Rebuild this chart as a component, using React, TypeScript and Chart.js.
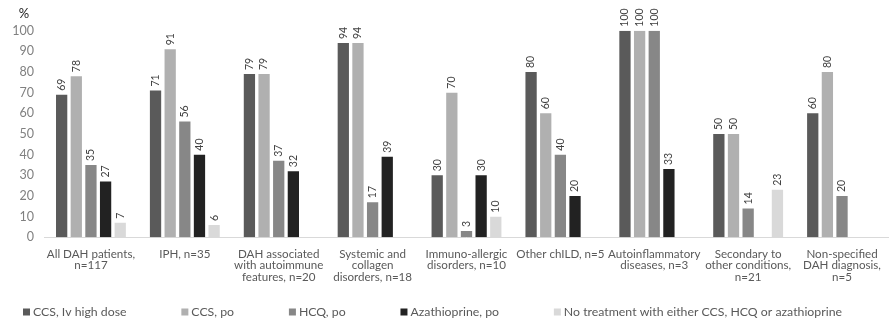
import React, { useEffect, useRef } from "react";
import { Chart, registerables } from "chart.js";

Chart.register(...registerables);

// Diagnostic groups shown along the x axis (line breaks as drawn)
const categories: (string | string[])[] = [
  ["All DAH patients,", "n=117"],
  "IPH, n=35",
  ["DAH associated", "with autoimmune", "features, n=20"],
  ["Systemic and", "collagen", "disorders, n=18"],
  ["Immuno-allergic", "disorders, n=10"],
  "Other chILD, n=5",
  ["Autoinflammatory", "diseases, n=3"],
  ["Secondary to", "other conditions,", "n=21"],
  ["Non-specified", "DAH diagnosis,", "n=5"],
];

const seriesNames = [
  "CCS, Iv high dose",
  "CCS, po",
  "HCQ, po",
  "Azathioprine, po",
  "No treatment with either CCS, HCQ or azathioprine",
];

// Percent of patients per group (null = no bar)
const ccsIvHighDose = [69, 71, 79, 94, 30, 80, 100, 50, 60];
const ccsPo = [78, 91, 79, 94, 70, 60, 100, 50, 80];
const hcqPo = [35, 56, 37, 17, 3, 40, 100, 14, 20];
const azathioprinePo: (number | null)[] = [27, 40, 32, 39, 30, 20, 33, null, null];
const noTreatment: (number | null)[] = [7, 6, null, null, 10, null, null, 23, null];

const yMin = 0;
const yMax = 100;
const yStep = 10;

const seriesColors = ["#5a5a5a", "#b0b0b0", "#878787", "#222222", "#d9d9d9"];

const FONT = "Lato, 'Open Sans', 'DejaVu Sans', sans-serif";

// Rotated value labels above each bar
const valueLabels = {
  id: "valueLabels",
  afterDatasetsDraw(chart: any) {
    const ctx = chart.ctx;
    ctx.save();
    ctx.font = `10.5px ${FONT}`;
    ctx.fillStyle = "#404040";
    ctx.textAlign = "left";
    ctx.textBaseline = "middle";
    chart.data.datasets.forEach((ds: any, di: number) => {
      const meta = chart.getDatasetMeta(di);
      meta.data.forEach((el: any, i: number) => {
        const v = ds.data[i];
        if (v === null || v === undefined) return;
        ctx.save();
        ctx.translate(el.x, el.y - 4);
        ctx.rotate(-Math.PI / 2);
        ctx.fillText(String(v), 0, 0);
        ctx.restore();
      });
    });
    ctx.restore();
  },
};

// "%" unit marker above the y axis
const unitLabel = {
  id: "unitLabel",
  afterDraw(chart: any) {
    const ctx = chart.ctx;
    const { top } = chart.chartArea;
    ctx.save();
    ctx.font = `13px ${FONT}`;
    ctx.fillStyle = "#1a1a1a";
    ctx.textAlign = "center";
    ctx.textBaseline = "middle";
    ctx.fillText("%", 24, top - 16.5);
    ctx.restore();
  },
};

// Single-row legend along the bottom
const bottomLegend = {
  id: "bottomLegend",
  afterDraw(chart: any) {
    const ctx = chart.ctx;
    const box = 7;
    const textGap = 3;
    const left = 23;
    const right = 842;
    ctx.save();
    ctx.font = `12.3px ${FONT}`;
    const widths = chart.data.datasets.map(
      (ds: any) => box + textGap + ctx.measureText(ds.label).width
    );
    const total = widths.reduce((a: number, b: number) => a + b, 0);
    const gap = (right - left - total) / (widths.length - 1);
    const y = chart.height - 13;
    let x = left;
    chart.data.datasets.forEach((ds: any, i: number) => {
      ctx.fillStyle = ds.backgroundColor;
      ctx.fillRect(x, y - box / 2, box, box);
      ctx.fillStyle = "#595959";
      ctx.textAlign = "left";
      ctx.textBaseline = "middle";
      ctx.fillText(ds.label, x + box + textGap, y);
      x += widths[i] + gap;
    });
    ctx.restore();
  },
};

export default function App() {
  const canvasRef = useRef<HTMLCanvasElement | null>(null);

  useEffect(() => {
    if (!canvasRef.current) return;
    const seriesValues = [ccsIvHighDose, ccsPo, hcqPo, azathioprinePo, noTreatment];
    const chart = new Chart(canvasRef.current, {
      type: "bar",
      data: {
        labels: categories,
        datasets: seriesNames.map((name, i) => ({
          label: name,
          data: seriesValues[i],
          backgroundColor: seriesColors[i],
          borderWidth: 0,
          categoryPercentage: 0.78,
          barPercentage: 0.77,
        })),
      },
      options: {
        animation: false,
        responsive: false,
        maintainAspectRatio: false,
        layout: { padding: { top: 30.7, right: 1, bottom: 22, left: 0 } },
        plugins: {
          legend: { display: false },
          tooltip: { enabled: false },
        },
        scales: {
          x: {
            grid: { display: false, drawTicks: false },
            border: { display: true, color: "#d9d9d9", width: 1 },
            ticks: {
              autoSkip: false,
              maxRotation: 0,
              minRotation: 0,
              padding: 11,
              color: "#595959",
              font: { family: FONT, size: 11.6, lineHeight: 1.0 },
            },
            afterFit(scale: any) {
              scale.height = 65.7;
            },
          },
          y: {
            min: yMin,
            max: yMax,
            grid: { display: false, drawTicks: false },
            border: { display: false },
            ticks: {
              stepSize: yStep,
              padding: 10,
              color: "#808080",
              font: { family: FONT, size: 12.5 },
            },
            afterFit(scale: any) {
              scale.width = 44;
            },
          },
        },
      },
      plugins: [valueLabels, unitLabel, bottomLegend],
    });
    return () => chart.destroy();
  }, []);

  return (
    <div style={{ position: "fixed", left: 0, top: 0, width: 892, height: 325, background: "#ffffff" }}>
      <canvas ref={canvasRef} width={892} height={325} style={{ width: 892, height: 325, display: "block" }} />
    </div>
  );
}
